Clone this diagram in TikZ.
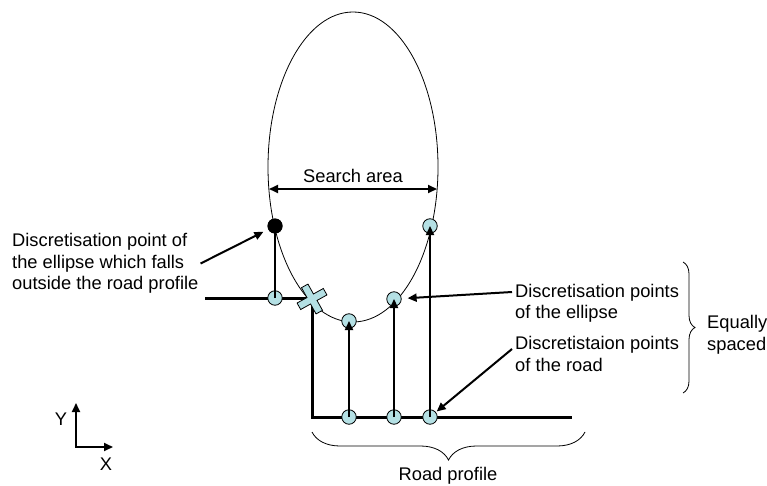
\documentclass[tikz,border=0pt]{standalone}
\usepackage{fontspec}
\setmainfont{Liberation Sans}
\usetikzlibrary{arrows.meta,decorations.pathreplacing,backgrounds}
\definecolor{dotblue}{RGB}{180,224,228}
\begin{document}
\begin{tikzpicture}[x=1pt,y=-1pt,
  lbl/.style={font=\fontsize{18.3}{21.5}\selectfont, align=left, inner sep=0pt},
  dotnode/.style={circle, draw=black, line width=0.8pt, fill=dotblue, minimum size=14.5pt, inner sep=0pt},
  blackdot/.style={circle, fill=black, minimum size=15pt, inner sep=0pt},
  road/.style={line width=3pt, line join=miter},
  arr/.style={line width=2pt, -{Triangle[length=9pt,width=8pt]}},
  dblarr/.style={line width=2pt, {Triangle[length=9pt,width=8pt]}-{Triangle[length=9pt,width=8pt]}},
  bracestyle/.style={line width=0.8pt, decorate}
]
\useasboundingbox (0,0) rectangle (767,486);

% ellipse
\draw[line width=0.8pt] (353,167) ellipse [x radius=85pt, y radius=155pt];

% discretisation points
\node[dotnode] (rl) at (275,298) {};
\node[blackdot] (bd) at (275,226) {};
\node[dotnode] (e1) at (349,321) {};
\node[dotnode] (e2) at (394,299) {};
\node[dotnode] (e3) at (430,226) {};
\node[dotnode] (r1) at (349,417) {};
\node[dotnode] (r2) at (394,417) {};
\node[dotnode] (r3) at (430,417) {};

% road profile (behind points)
\begin{pgfonlayer}{background}
\draw[road] (205,298) -- (312,298) -- (312,417) -- (572,417);
\end{pgfonlayer}

% cross
\begin{scope}[shift={(312,299)}, rotate=29]
\filldraw[fill=dotblue, draw=black, line width=0.8pt]
  (15,-3.7) -- (15,3.7) -- (3.7,3.7) -- (3.7,15) -- (-3.7,15) -- (-3.7,3.7)
  -- (-15,3.7) -- (-15,-3.7) -- (-3.7,-3.7) -- (-3.7,-15) -- (3.7,-15) -- (3.7,-3.7) -- cycle;
\end{scope}

% vertical connectors
\draw[line width=2pt] (rl.center) -- (bd.center);
\node[blackdot] at (bd) {};
\draw[arr] (r1.center) -- (e1.center);
\draw[arr] (r2.center) -- (e2.center);
\draw[arr] (r3.center) -- (e3.center);

% search area
\coordinate (sL) at (269,189);
\coordinate (sR) at (437,189);
\draw[dblarr] (sL) -- (sR);
\node[lbl] (lblSearch) at (353,176) {Search area};

% labels
\node[lbl, anchor=west] (lblOut) at (12,263.5) {Discretisation point of\\the ellipse which falls\\outside the road profile};
\node[lbl, anchor=west] (lblEll) at (515,303.5) {Discretisation points\\of the ellipse};
\node[lbl, anchor=west] (lblRoad) at (515,354) {Discretistaion points\\of the road};
\node[lbl, anchor=west] (lblEq) at (707,335) {Equally\\spaced};
\node[lbl] (lblRP) at (448,476) {Road profile};

\draw[arr, shorten >=13pt] ([xshift=2pt]lblOut.east) -- (bd.center);
\coordinate (aE) at (512,292);
\coordinate (aR) at (512,349);
\draw[arr, shorten >=6pt] (aE) -- (e2);
\draw[arr, shorten >=1pt] (aR) -- (r3);

% braces
\draw[bracestyle, decoration={brace, amplitude=28pt}] (585,432) -- (312,432);
\draw[bracestyle, decoration={brace, amplitude=12pt}] (683,262) -- (683,393);

% axes
\coordinate (O) at (76,447);
\coordinate (Yt) at (76,403);
\coordinate (Xt) at (113,447);
\draw[dblarr, line join=miter] (Yt) -- (O) -- (Xt);
\node[lbl] (lblY) at (61,419) {Y};
\node[lbl] (lblX) at (106,464) {X};
\end{tikzpicture}
\end{document}
